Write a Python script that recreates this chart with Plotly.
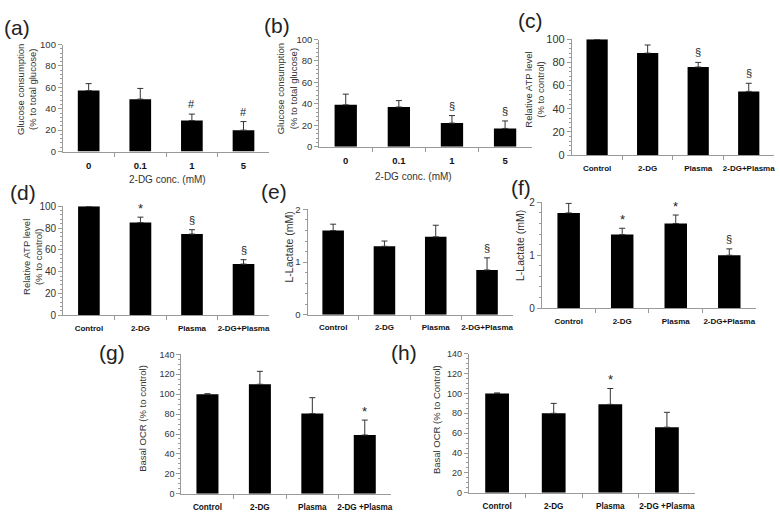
import plotly.graph_objects as go

W, H = 780, 517
FONT = "Arial, Liberation Sans, sans-serif"

# ---------------- data ----------------
conc_labels = ["0", "0.1", "1", "5"]
treat_labels = ["Control", "2-DG", "Plasma", "2-DG+Plasma"]
ocr_labels = ["Control", "2-DG", "Plasma", "2-DG +Plasma"]

a_vals = [57, 49, 29, 20]
a_err = [6.5, 10, 6, 8]
a_marks = ["", "", "#", "#"]

b_vals = [39, 37, 22, 17]
b_err = [10, 6, 7, 7]
b_marks = ["", "", "§", "§"]

c_vals = [100, 88, 76, 55]
c_err = [0, 7, 4, 7]
c_marks = ["", "", "§", "§"]

d_vals = [100, 85, 74.5, 47]
d_err = [0, 5, 4, 4]
d_marks = ["", "*", "§", "§"]

e_vals = [1.6, 1.3, 1.48, 0.85]
e_err = [0.12, 0.1, 0.22, 0.23]
e_marks = ["", "", "", "§"]

f_vals = [1.8, 1.39, 1.6, 1.0]
f_err = [0.18, 0.12, 0.16, 0.12]
f_marks = ["", "*", "*", "§"]

g_vals = [100, 110, 80.5, 59]
g_err = [0.5, 13, 16, 15]
g_marks = ["", "", "", "*"]

h_vals = [100, 80, 89, 66]
h_err = [0.5, 10, 16, 15]
h_marks = ["", "", "*", ""]

# ---------------- layout specs ----------------
panels = [
    dict(lab="(a)", cats=conc_labels, v=a_vals, e=a_err, m=a_marks, yr=[0, 100], dt=20, mdt=4,
         xb=(63, 270), yb=(39.5, 149), yt="Glucose consumption<br>(% to total glucose)", ytp=(26, 85),
         lp=(17, 22), xt="2-DG conc. (mM)", xtp=(168, 178), tf=9.5, yf=9.5),
    dict(lab="(b)", cats=conc_labels, v=b_vals, e=b_err, m=b_marks, yr=[0, 100], dt=20, mdt=4,
         xb=(320, 533), yb=(34.3, 144), yt="Glucose consumption<br>(% to total glucose)", ytp=(287, 85),
         lp=(278, 20), xt="2-DG conc. (mM)", xtp=(415, 175), tf=9.5, yf=9.5),
    dict(lab="(c)", cats=treat_labels, v=c_vals, e=c_err, m=c_marks, yr=[0, 100], dt=20, mdt=4,
         xb=(573.3, 776), yb=(34, 152.7), yt="Relative ATP level<br>(% to control)", ytp=(535, 86),
         lp=(532, 15), xt=None, xtp=None, tf=8, yf=11),
    dict(lab="(d)", cats=treat_labels, v=d_vals, e=d_err, m=d_marks, yr=[0, 100], dt=20, mdt=4,
         xb=(63.3, 270), yb=(205, 316.7), yt="Relative ATP level<br>(% to control)", ytp=(32, 257),
         lp=(23, 191), xt=None, xtp=None, tf=8, yf=10),
    dict(lab="(e)", cats=treat_labels, v=e_vals, e=e_err, m=e_marks, yr=[0, 2], dt=1, mdt=0.2,
         xb=(308.3, 514), yb=(208.3, 316), yt="L-Lactate (mM)", ytp=(290, 247),
         lp=(275, 190), xt=None, xtp=None, tf=8, yf=9.5),
    dict(lab="(f)", cats=treat_labels, v=f_vals, e=f_err, m=f_marks, yr=[0, 2], dt=1, mdt=0.2,
         xb=(543.3, 758), yb=(201, 309.3), yt="L-Lactate (mM)", ytp=(522, 245),
         lp=(522, 186), xt=None, xtp=None, tf=8, yf=10),
    dict(lab="(g)", cats=ocr_labels, v=g_vals, e=g_err, m=g_marks, yr=[0, 140], dt=20, mdt=5,
         xb=(181.7, 392), yb=(356.7, 499.3), yt="Basal OCR (% to control)", ytp=(143, 422),
         lp=(112, 355), xt=None, xtp=None, tf=8.2, yf=9),
    dict(lab="(h)", cats=ocr_labels, v=h_vals, e=h_err, m=h_marks, yr=[0, 140], dt=20, mdt=5,
         xb=(470, 697), yb=(356, 498.3), yt="Basal OCR (% to Control)", ytp=(437, 423),
         lp=(405, 355), xt=None, xtp=None, tf=8.2, yf=9),
]

fig = go.Figure()
annotations = []
AX = "#9a9a9a"

for i, p in enumerate(panels, start=1):
    sfx = "" if i == 1 else str(i)
    xa, ya = "x" + sfx, "y" + sfx
    n = len(p["cats"])
    fig.add_trace(go.Bar(
        x=list(range(n)), y=p["v"], xaxis=xa, yaxis=ya, width=0.42,
        marker=dict(color="black", line=dict(width=0)),
        error_y=dict(type="data", array=p["e"], arrayminus=[0] * n, symmetric=False,
                     color="#333333", thickness=1, width=3),
        showlegend=False,
    ))
    x0, x1 = p["xb"]
    yt_, yb_ = p["yb"]
    fig.layout["xaxis" + sfx] = dict(
        domain=[x0 / W, x1 / W], anchor=ya, type="linear", range=[-0.5, n - 0.5],
        tickmode="array", tickvals=list(range(n)), ticktext=p["cats"], tickangle=0,
        showline=True, linecolor=AX, linewidth=1, ticks="", showgrid=False, zeroline=False,
        minor=dict(ticks="outside", ticklen=4, tickcolor=AX, tickmode="array",
                   tickvals=[k - 0.5 for k in range(1, n)]),
        tickfont=dict(family=FONT, size=p["tf"], color="#111", weight="bold"),
        ticklabelstandoff=5,
        fixedrange=True,
    )
    fig.layout["yaxis" + sfx] = dict(
        domain=[1 - yb_ / H, 1 - yt_ / H], anchor=xa, range=p["yr"], dtick=p["dt"],
        showline=True, linecolor=AX, linewidth=1, ticks="outside", ticklen=4, tickcolor=AX,
        minor=dict(ticks="outside", ticklen=2, dtick=p["mdt"], tickcolor=AX),
        showgrid=False, zeroline=False,
        tickfont=dict(family=FONT, size=p["yf"], color="#333"),
        fixedrange=True,
    )
    # significance marks
    for k, (v, e, m) in enumerate(zip(p["v"], p["e"], p["m"])):
        if m:
            annotations.append(dict(
                xref=xa, yref=ya, x=k, y=v + e, text=m, showarrow=False,
                yanchor="middle", yshift=10 if m != "*" else 9,
                font=dict(family=FONT, size=11 if m != "*" else 13, color="#222"),
            ))
    # y title
    annotations.append(dict(
        xref="paper", yref="paper", x=p["ytp"][0] / W, y=1 - p["ytp"][1] / H,
        text=p["yt"], textangle=-90, showarrow=False, xanchor="center", yanchor="middle",
        font=dict(family=FONT, size=9.5 if "Lactate" not in p["yt"] else 10.5, color="#333"),
    ))
    # panel label
    annotations.append(dict(
        xref="paper", yref="paper", x=p["lp"][0] / W, y=1 - p["lp"][1] / H,
        text=p["lab"], showarrow=False, xanchor="center", yanchor="middle",
        font=dict(family=FONT, size=21, color="#222"),
    ))
    if p["xt"]:
        annotations.append(dict(
            xref="paper", yref="paper", x=p["xtp"][0] / W, y=1 - p["xtp"][1] / H,
            text=p["xt"], showarrow=False, xanchor="center", yanchor="middle",
            font=dict(family=FONT, size=10, color="#333"),
        ))

fig.update_layout(
    width=W, height=H, margin=dict(l=0, r=0, t=0, b=0),
    paper_bgcolor="white", plot_bgcolor="white",
    annotations=annotations,
    font=dict(family=FONT),
)

fig.write_html("out.html", config={"displayModeBar": False},
               post_script="document.body.style.margin='0px';document.body.style.overflow='hidden';")
